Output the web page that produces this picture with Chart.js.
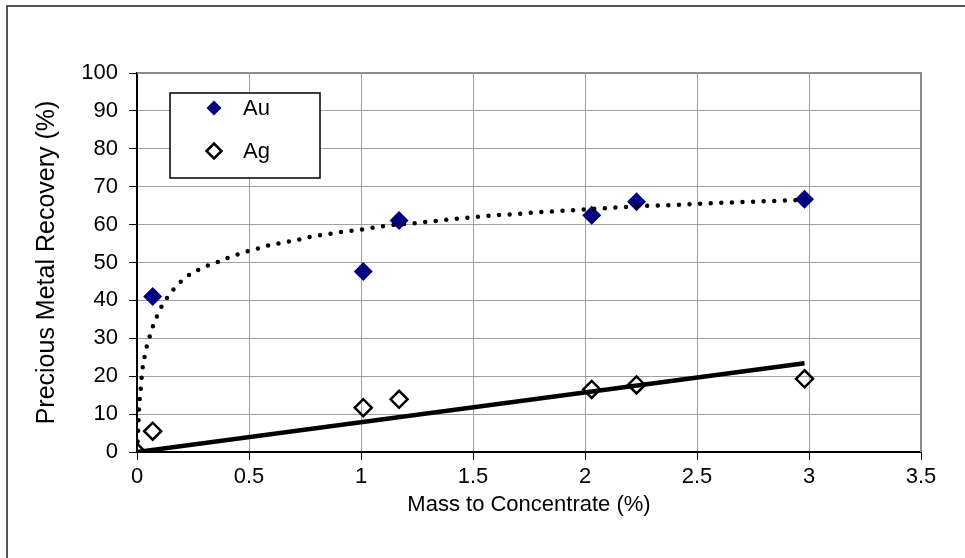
<!DOCTYPE html>
<html>
<head>
<meta charset="utf-8">
<script src="https://cdn.jsdelivr.net/npm/chart.js@4.4.1/dist/chart.umd.min.js"></script>
<style>
  html, body { margin: 0; padding: 0; background: #fff; }
  #wrap { width: 965px; height: 558px; }
</style>
</head>
<body>
<div id="wrap"><canvas id="recoveryChart" width="965" height="558"></canvas></div>
<script>
// Measured points (mass to concentrate %, recovery %)
var auMass = [0.07, 1.01, 1.17, 2.03, 2.23, 2.98];
var auRecovery = [41, 47.6, 61.1, 62.5, 66.0, 66.7];

var agMass = [0, 0.07, 1.01, 1.17, 2.03, 2.23, 2.98];
var agRecovery = [0, 5.5, 11.7, 13.9, 16.5, 17.7, 19.3];

// Au trendline (dotted curve)
var auTrendMass = [0, 0.001, 0.005, 0.009, 0.013, 0.018, 0.021, 0.027, 0.036, 0.046, 0.061, 0.075, 0.094, 0.115,
  0.142, 0.171, 0.204, 0.243, 0.284, 0.329, 0.374, 0.418, 0.463, 0.508, 0.555, 0.6, 0.648, 0.694, 0.74,
  0.787, 0.833, 0.88, 0.929, 0.976, 1.024, 1.07, 1.117, 1.26, 1.4, 1.545, 1.69, 1.83, 1.97, 2.11, 2.26,
  2.4, 2.54, 2.68, 2.83, 2.97];
var auTrendRecovery = [0, 0.5, 6, 11.7, 14.6, 17.4, 20, 22.9, 25.7, 28.5, 31.2, 33.9, 36.4, 39,
  41.3, 43.5, 45.4, 47.1, 48.3, 49.5, 50.4, 51.5, 52.4, 53.2, 53.9, 54.7, 55.2, 55.7, 56.3,
  56.9, 57.3, 57.7, 58.2, 58.5, 58.9, 59.3, 59.7, 60.5, 61.4, 62.2, 62.8, 63.4, 63.9, 64.4, 64.9,
  65.2, 65.6, 65.9, 66.2, 66.5];

// Ag trendline (straight line)
var agTrendMass = [0, 2.98];
var agTrendRecovery = [0, 23.4];

// Axis tick labels
var xTickLabels = ['0', '0.5', '1', '1.5', '2', '2.5', '3', '3.5'];
var yTickLabels = ['0', '10', '20', '30', '40', '50', '60', '70', '80', '90', '100'];

var seriesNames = ['Au', 'Ag'];

function toPoints(xs, ys) {
    return xs.map(function(x, i) { return { x: x, y: ys[i] }; });
}

var FONT = 'Liberation Sans, Arial, sans-serif';

// Frame, plot border and legend box
var decorPlugin = {
    id: 'decor',
    beforeDraw: function(chart) {
        var ctx = chart.ctx;
        ctx.save();
        ctx.fillStyle = '#fff';
        ctx.fillRect(0, 0, chart.width, chart.height);
        ctx.strokeStyle = '#222';
        ctx.lineWidth = 1.5;
        ctx.strokeRect(7, 6, chart.width + 20, chart.height + 20);
        ctx.restore();
    },
    beforeDatasetsDraw: function(chart) {
        var ctx = chart.ctx;
        var a = chart.chartArea;
        ctx.save();
        ctx.strokeStyle = '#8c8c8c';
        ctx.lineWidth = 2;
        ctx.beginPath();
        ctx.moveTo(a.left, a.top);
        ctx.lineTo(a.right, a.top);
        ctx.lineTo(a.right, a.bottom);
        ctx.stroke();
        ctx.restore();
    },
    afterDraw: function(chart) {
        var ctx = chart.ctx;
        var box = { x: 170, y: 93, w: 150, h: 85 };
        ctx.save();
        ctx.fillStyle = '#fff';
        ctx.fillRect(box.x, box.y, box.w, box.h);
        ctx.strokeStyle = '#000';
        ctx.lineWidth = 1.5;
        ctx.strokeRect(box.x, box.y, box.w, box.h);
        var rows = [chart.data.datasets[2], chart.data.datasets[3]];
        rows.forEach(function(ds, i) {
            var cy = box.y + 15 + i * 43;
            var cx = box.x + 44;
            var r = 7.5;
            ctx.beginPath();
            ctx.moveTo(cx - r, cy);
            ctx.lineTo(cx, cy - r);
            ctx.lineTo(cx + r, cy);
            ctx.lineTo(cx, cy + r);
            ctx.closePath();
            if (ds.backgroundColor !== 'rgba(0,0,0,0)') {
                ctx.fillStyle = ds.backgroundColor;
                ctx.fill();
            } else {
                ctx.lineWidth = 2.5;
                ctx.strokeStyle = ds.borderColor;
                ctx.stroke();
            }
            ctx.fillStyle = '#000';
            ctx.font = '22px ' + FONT;
            ctx.textBaseline = 'middle';
            ctx.fillText(ds.label, box.x + 73, cy + 1);
        });
        ctx.restore();
    }
};

var ctx = document.getElementById('recoveryChart').getContext('2d');

var recoveryChart = new Chart(ctx, {
    type: 'scatter',
    data: {
        datasets: [{
            label: 'Au trend',
            type: 'line',
            data: toPoints(auTrendMass, auTrendRecovery),
            borderColor: '#000',
            borderWidth: 4.5,
            borderDash: [0, 10.6],
            borderCapStyle: 'round',
            cubicInterpolationMode: 'monotone',
            pointRadius: 0,
            fill: false,
            order: 1
        }, {
            label: 'Ag trend',
            type: 'line',
            data: toPoints(agTrendMass, agTrendRecovery),
            borderColor: '#000',
            borderWidth: 4.5,
            pointRadius: 0,
            fill: false,
            order: 2
        }, {
            label: seriesNames[0],
            data: toPoints(auMass, auRecovery),
            pointStyle: 'rectRot',
            pointRadius: 9.5,
            backgroundColor: '#000080',
            borderColor: '#000080',
            borderWidth: 0,
            order: 3
        }, {
            label: seriesNames[1],
            data: toPoints(agMass, agRecovery),
            pointStyle: 'rectRot',
            pointRadius: 8.5,
            backgroundColor: 'rgba(0,0,0,0)',
            borderColor: '#000',
            borderWidth: 2.5,
            order: 4
        }]
    },
    options: {
        responsive: false,
        animation: false,
        layout: { padding: { left: 0, right: 44, top: 73, bottom: 0 } },
        plugins: {
            legend: { display: false },
            tooltip: { enabled: false }
        },
        scales: {
            x: {
                type: 'linear',
                min: 0,
                max: 3.5,
                afterFit: function(scale) { scale.height = 106; },
                ticks: {
                    stepSize: 0.5,
                    color: '#000',
                    font: { family: FONT, size: 22 },
                    padding: 4,
                    maxRotation: 0,
                    callback: function(value) {
                        return xTickLabels[Math.round(value / 0.5)];
                    }
                },
                grid: { color: '#a0a0a0', lineWidth: 1, tickColor: '#000', tickLength: 8 },
                border: { color: '#000', width: 2 },
                title: {
                    display: true,
                    text: 'Mass to Concentrate (%)',
                    color: '#000',
                    font: { family: FONT, size: 22 },
                    padding: { top: 0, bottom: 40 }
                }
            },
            y: {
                type: 'linear',
                min: 0,
                max: 100,
                afterFit: function(scale) { scale.width = 137; },
                ticks: {
                    stepSize: 10,
                    color: '#000',
                    font: { family: FONT, size: 22 },
                    padding: 11,
                    callback: function(value) {
                        return yTickLabels[Math.round(value / 10)];
                    }
                },
                grid: { color: '#a0a0a0', lineWidth: 1, tickColor: '#000', tickLength: 8 },
                border: { color: '#000', width: 2 },
                title: {
                    display: true,
                    text: 'Precious Metal Recovery (%)',
                    color: '#000',
                    font: { family: FONT, size: 25 },
                    padding: { top: 32, bottom: 0 }
                }
            }
        }
    },
    plugins: [decorPlugin]
});
</script>
</body>
</html>
